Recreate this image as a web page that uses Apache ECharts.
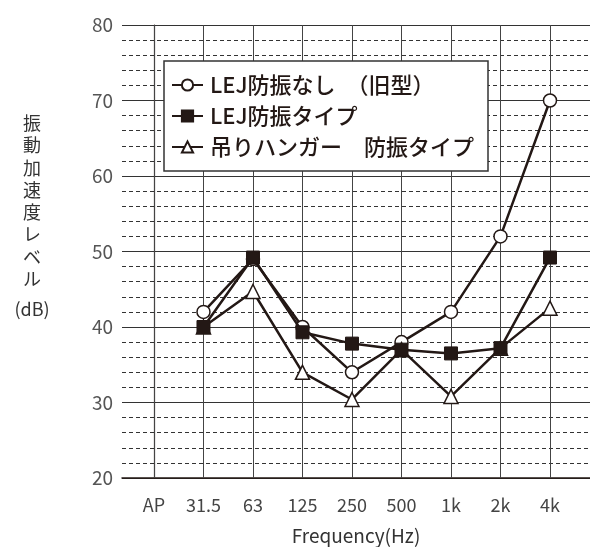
<!DOCTYPE html>
<html><head><meta charset="utf-8">
<script src="https://cdn.jsdelivr.net/npm/echarts@6/dist/echarts.min.js"></script>
<style>html,body{margin:0;padding:0;background:#fff}#c{width:590px;height:547px}</style>
</head><body><div id="c"></div>
<script>
const categories = ['AP','31.5','63','125','250','500','1k','2k','4k'];
const seriesNames = ['LEJ防振なし　（旧型）','LEJ防振タイプ','吊りハンガー　防振タイプ'];
const oldType = [null, 42, 49, 40, 34, 38, 42, 52, 70];
const lejType = [null, 40, 49.2, 39.3, 37.8, 37, 36.5, 37.2, 49.2];
const hangerType = [null, 40, 44.7, 34, 30.4, 37, 30.8, 37.2, 42.5];
const yTicks = [20,30,40,50,60,70,80];

const toPairs = arr => arr.map((v,i)=> v==null ? null : [i, v]).filter(d=>d);
const idx = categories.map((c,i)=>i);
const font = '"Noto Sans CJK JP", "Noto Sans", sans-serif';
const lineColor = '#231815';

const chart = echarts.init(document.getElementById('c'), null, {renderer:'canvas'});
chart.setOption({
  animation:false,
  textStyle:{fontFamily:font},
  title:[
    {text:'振\n動\n加\n速\n度\nレ\nベ\nル', left:27, top:107, textAlign:'center',
     textStyle:{fontSize:18, lineHeight:22.3, fontWeight:'normal', color:'#333', fontFamily:font}},
    {text:'(dB)', left:27, top:295, textAlign:'center',
     textStyle:{fontSize:18, fontWeight:'normal', color:'#333', fontFamily:font}}
  ],
  grid:{left:122, right:0, top:25, bottom:69, containLabel:false, outerBoundsMode:'none'},
  legend:{
    orient:'vertical', left:164, top:61,
    padding:[13,14,13,7], itemGap:9, itemWidth:31, itemHeight:14,
    backgroundColor:'#fff', borderColor:'#333', borderWidth:1.5, borderRadius:0,
    textStyle:{fontSize:22, color:'#231815', fontWeight:500, fontFamily:font, padding:[0,0,0,2]},
    data:seriesNames
  },
  xAxis:{
    type:'value', min:-0.646, max:8.808,
    axisLine:{show:true, onZero:false, lineStyle:{color:'#231815', width:1.5}},
    splitLine:{show:false},
    axisTick:{show:true, inside:true, length:453, customValues:idx, lineStyle:{color:'#444', width:1}},
    axisLabel:{show:true, customValues:idx, formatter:v=>categories[Math.round(v)], fontSize:18, color:'#444', margin:18},
    name:'Frequency(Hz)', nameLocation:'middle', nameGap:48,
    nameTextStyle:{fontSize:19, color:'#333'}
  },
  yAxis:{
    type:'value', min:20, max:80, interval:10,
    axisLine:{show:true, lineStyle:{color:'#231815', width:1.2}},
    axisTick:{show:false},
    axisLabel:{fontSize:19, color:'#555', margin:9},
    splitLine:{show:true, lineStyle:{color:'#333', width:1}},
    minorTick:{show:false, splitNumber:5},
    minorSplitLine:{show:true, lineStyle:{color:'#333', width:1, type:[4,3]}}
  },
  series:[
    {name:seriesNames[0], type:'line', data:toPairs(oldType), symbol:'circle', symbolSize:13,
     itemStyle:{color:'#fff', borderColor:lineColor, borderWidth:1.5},
     lineStyle:{color:lineColor, width:2.5}, z:2},
    {name:seriesNames[2], type:'line', data:toPairs(hangerType), symbol:'triangle', symbolSize:14,
     itemStyle:{color:'#fff', borderColor:lineColor, borderWidth:1.5},
     lineStyle:{color:lineColor, width:2.5}, z:3},
    {name:seriesNames[1], type:'line', data:toPairs(lejType), symbol:'rect', symbolSize:13,
     itemStyle:{color:lineColor, borderColor:lineColor, borderWidth:1},
     lineStyle:{color:lineColor, width:2.5}, z:4}
  ]
});
</script></body></html>
